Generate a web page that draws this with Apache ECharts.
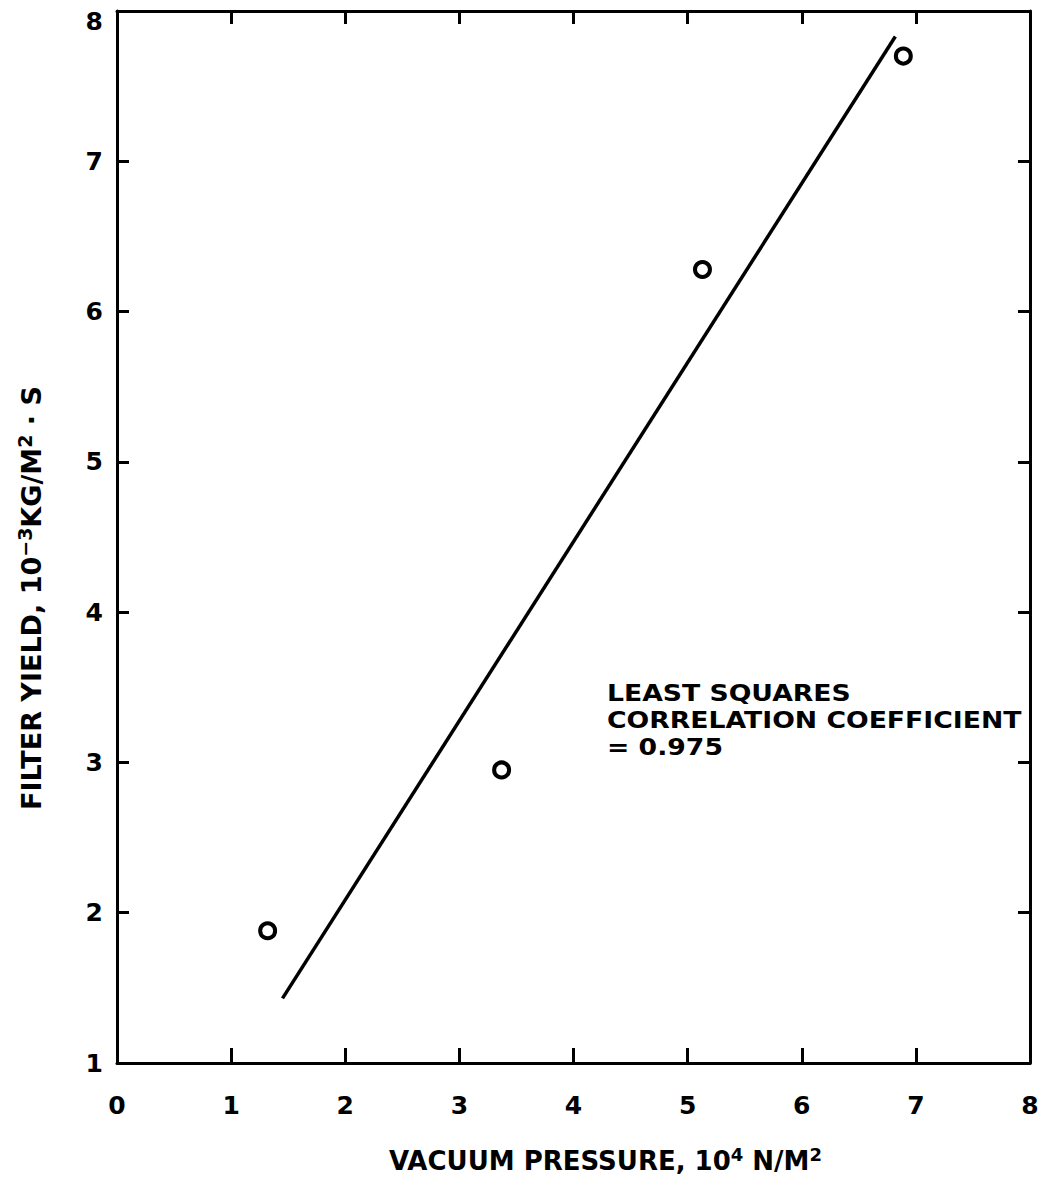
<!DOCTYPE html>
<html>
<head>
<meta charset="utf-8">
<script src="https://cdn.jsdelivr.net/npm/echarts@6/dist/echarts.min.js"></script>
<style>
  html, body { margin: 0; padding: 0; background: #fff; }
  #chart { width: 1042px; height: 1190px; }
</style>
</head>
<body>
<div id="chart"></div>
<script>
// filter yield vs vacuum pressure

var chart = echarts.init(document.getElementById('chart'), null, {renderer: 'svg'});

var pressure = [1.32, 3.37, 5.13, 6.89];
var yieldVals = [1.88, 2.95, 6.28, 7.7];
var fitX = [1.45, 6.82];
var fitY = [1.43, 7.83];
var noteLines = ['LEAST SQUARES', 'CORRELATION COEFFICIENT', '= 0.975'];

var font = '"DejaVu Sans", "Liberation Sans", sans-serif';

var points = pressure.map(function (x, i) { return [x, yieldVals[i]]; });
var fit = fitX.map(function (x, i) { return [x, fitY[i]]; });

function axisBase(tickLen) {
    return {
        type: 'value',
        min: 0, max: 8, interval: 1,
        splitLine: {show: false},
        axisLine: {onZero: false, lineStyle: {color: '#000', width: 3}},
        axisTick: {inside: true, length: tickLen, lineStyle: {color: '#000', width: 3}}
    };
}

var labelStyle = {color: '#000', fontSize: 25, fontWeight: 'bold', fontFamily: font};
function sup(size, lift) {
    return {fontSize: size, fontWeight: 'bold', fontFamily: font, color: '#000', padding: [0, 0, lift, 0]};
}

option = {
    backgroundColor: '#fff',
    animation: false,
    grid: {left: 117, right: 12, top: 11, bottom: 127},
    xAxis: [
        Object.assign(axisBase(15), {
            position: 'bottom',
            name: 'VACUUM PRESSURE, 10{s|4} N/M{s|2}',
            nameLocation: 'middle',
            nameGap: 82,
            nameTextStyle: {
                color: '#000', fontSize: 26, fontWeight: 'bold', fontFamily: font,
                padding: [0, 0, 0, 64],
                rich: {s: sup(18, 13)}
            },
            axisLabel: Object.assign({margin: 30}, labelStyle)
        }),
        Object.assign(axisBase(13), {
            position: 'top',
            axisLabel: {show: false}
        })
    ],
    yAxis: [
        Object.assign(axisBase(12), {
            min: 1,
            position: 'left',
            name: 'FILTER YIELD, 10{s|−3}KG/M{s|2} · S',
            nameLocation: 'middle',
            nameGap: 70,
            nameRotate: 90,
            nameTextStyle: {
                color: '#000', fontSize: 27, fontWeight: 'bold', fontFamily: font,
                padding: [0, 122, 0, 0],
                rich: {s: sup(19, 13)}
            },
            axisLabel: Object.assign({
                margin: 14,
                // top label sits a little below the corner, as in the original
                formatter: function (v) { return v === 8 ? '{top|8}' : String(v); },
                rich: {top: Object.assign({padding: [20, 0, 0, 0]}, labelStyle)}
            }, labelStyle)
        }),
        Object.assign(axisBase(12), {
            min: 1,
            position: 'right',
            axisLabel: {show: false}
        })
    ],
    graphic: [{
        type: 'text',
        x: 607,
        y: 680,
        scaleX: 1.16,
        style: {
            text: noteLines.join('\n'),
            fill: '#000',
            font: 'bold 23px ' + font,
            lineHeight: 27
        }
    }],
    series: [
        {
            name: 'fit',
            type: 'line',
            data: fit,
            showSymbol: false,
            lineStyle: {color: '#000', width: 3.5}
        },
        {
            name: 'measured',
            type: 'scatter',
            data: points,
            symbol: 'circle',
            symbolSize: 15,
            itemStyle: {color: '#fff', borderColor: '#000', borderWidth: 4, opacity: 1}
        }
    ]
};
chart.setOption(option);
</script>
</body>
</html>
